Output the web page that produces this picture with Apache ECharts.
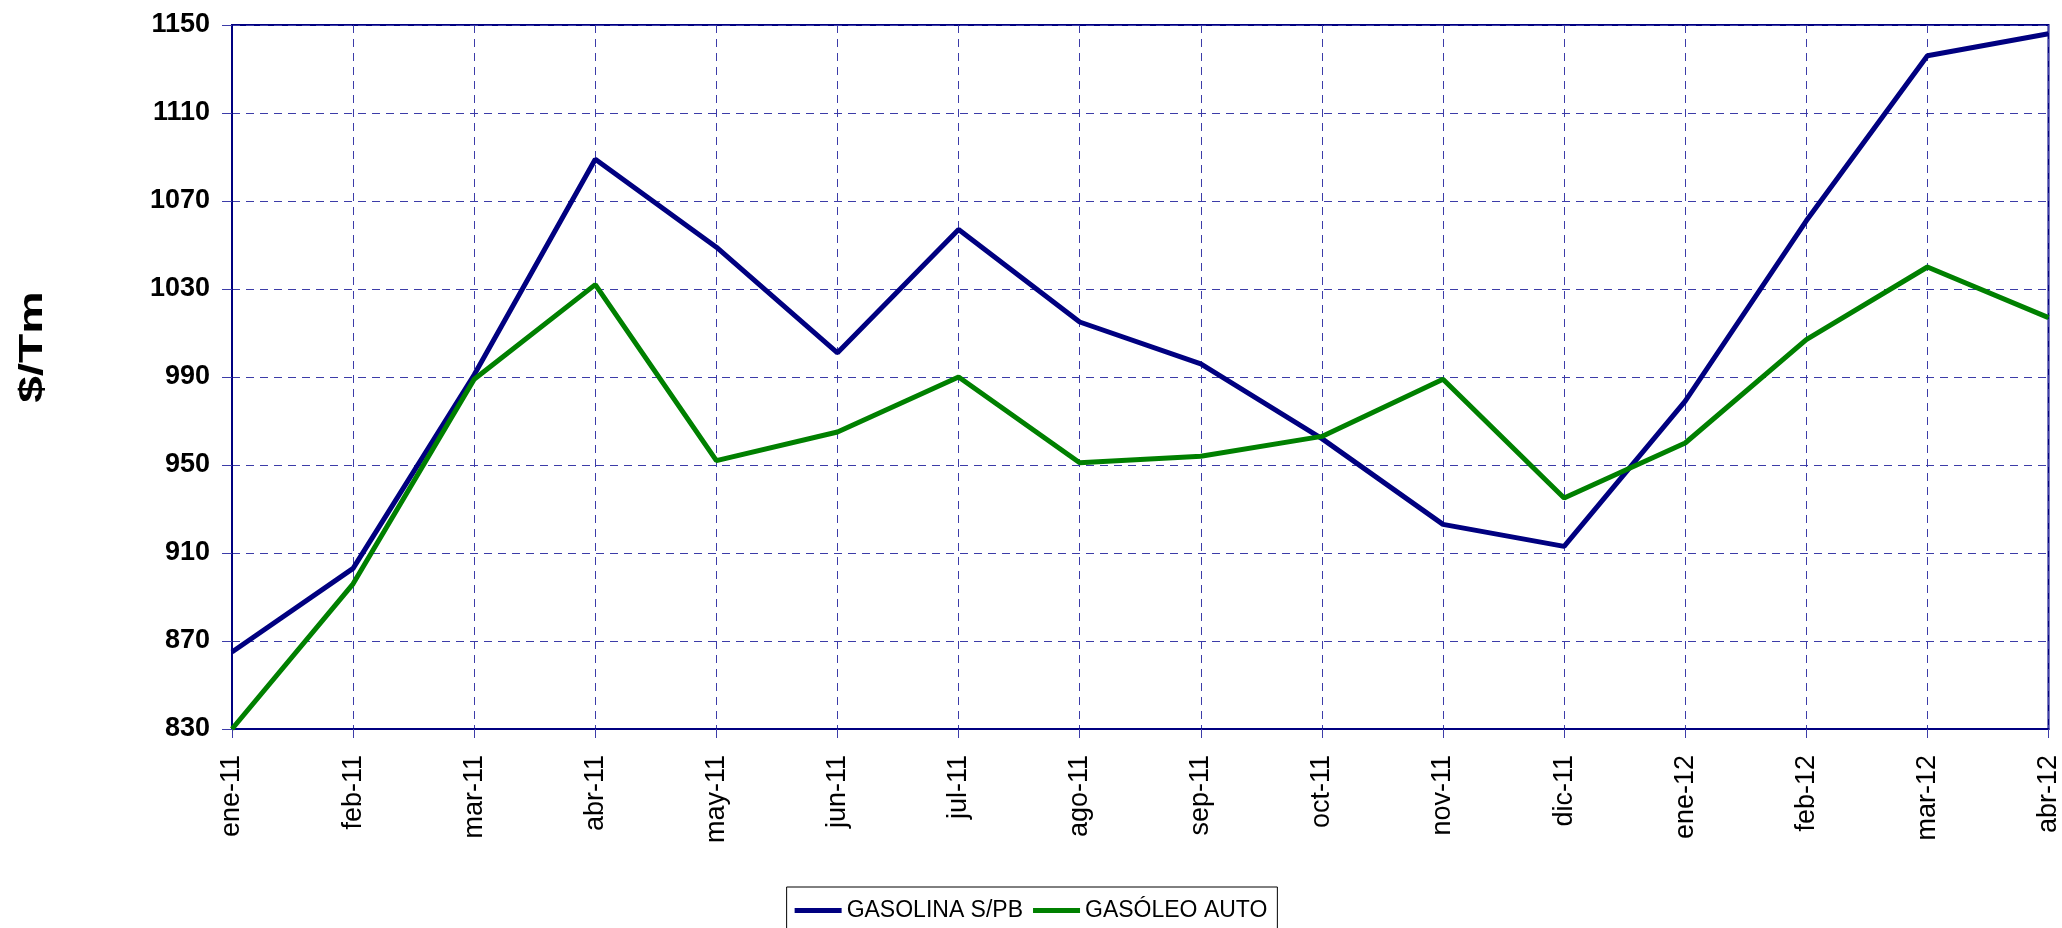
<!DOCTYPE html>
<html>
<head>
<meta charset="utf-8">
<script src="https://cdn.jsdelivr.net/npm/echarts@6/dist/echarts.min.js"></script>
<style>
  html, body { margin: 0; padding: 0; background: #fff; }
  #chart { width: 2062px; height: 928px; }
</style>
</head>
<body>
<div id="chart"></div>
<script>
  // meses
  const meses = ['ene-11', 'feb-11', 'mar-11', 'abr-11', 'may-11', 'jun-11', 'jul-11', 'ago-11',
      'sep-11', 'oct-11', 'nov-11', 'dic-11', 'ene-12', 'feb-12', 'mar-12', 'abr-12'];
  // $/Tm
  const gasolina = [865, 903, 991, 1089, 1049, 1001, 1057, 1015, 996, 962, 923, 913, 979, 1061, 1136, 1146];
  const gasoleo = [830, 896, 989, 1032, 952, 965, 990, 951, 954, 963, 989, 935, 960, 1007, 1040, 1017];

  const navy = '#000080';
  const gridColor = '#3c3ca8';

  var myChart = echarts.init(document.getElementById('chart'));
  var option = {
      animation: false,
      backgroundColor: '#fff',
      textStyle: { fontFamily: 'Liberation Sans, Arial, sans-serif' },
      grid: {
          left: 232, right: 10, top: 25, bottom: 199,
          show: true, borderColor: navy, borderWidth: 2
      },
      legend: {
          bottom: -8,
          left: 'center',
          padding: [12, 10, 14, 8],
          borderColor: '#000',
          borderWidth: 1,
          itemWidth: 47,
          itemHeight: 5,
          itemGap: 10,
          icon: 'rect',
          textStyle: { fontSize: 23, color: '#000' },
          data: ['GASOLINA S/PB', 'GASÓLEO AUTO']
      },
      graphic: [{
          type: 'text',
          x: 33,
          y: 347,
          rotation: Math.PI / 2,
          scaleX: 1.45,
          style: {
              text: '$/Tm',
              font: 'bold 33px Liberation Sans, Arial, sans-serif',
              fill: '#000',
              align: 'center',
              verticalAlign: 'middle'
          }
      }],
      xAxis: {
          type: 'category',
          boundaryGap: false,
          data: meses,
          axisLine: { lineStyle: { color: navy, width: 2 } },
          axisTick: { show: true, length: 9, lineStyle: { color: gridColor } },
          axisLabel: { rotate: 90, fontSize: 27, color: '#000', margin: 26 },
          splitLine: { show: true, lineStyle: { color: gridColor, type: [8, 6], width: 1 } }
      },
      yAxis: {
          type: 'value',
          min: 830,
          max: 1150,
          interval: 40,
          axisLine: { show: true, lineStyle: { color: navy, width: 2 } },
          axisTick: { show: true, length: 10, lineStyle: { color: gridColor } },
          axisLabel: {
              fontSize: 27, fontWeight: 'bold', color: '#000', margin: 22,
              formatter: function (v) { return String(v); }
          },
          splitLine: { show: true, lineStyle: { color: gridColor, type: [8, 6], width: 1 } }
      },
      series: [{
          name: 'GASOLINA S/PB',
          type: 'line',
          data: gasolina,
          showSymbol: false,
          symbol: 'none',
          lineStyle: { color: navy, width: 5 },
          itemStyle: { color: navy }
      }, {
          name: 'GASÓLEO AUTO',
          type: 'line',
          data: gasoleo,
          showSymbol: false,
          symbol: 'none',
          lineStyle: { color: '#008000', width: 5 },
          itemStyle: { color: '#008000' }
      }]
  };
  myChart.setOption(option);
</script>
</body>
</html>
